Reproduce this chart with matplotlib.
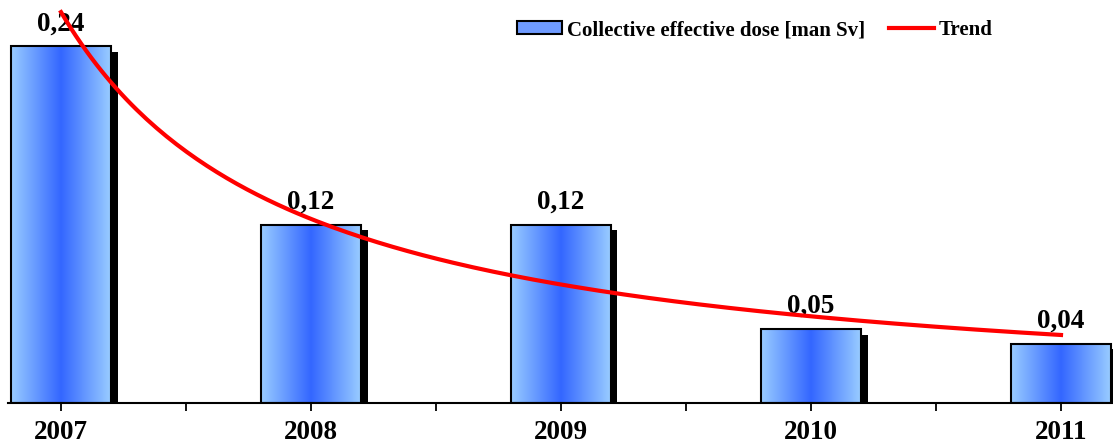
import numpy as np
import matplotlib
matplotlib.use("Agg")
import matplotlib.pyplot as plt
from matplotlib.colors import LinearSegmentedColormap
from matplotlib.patches import Rectangle, Patch
from matplotlib.lines import Line2D

years = ["2007", "2008", "2009", "2010", "2011"]
dose = [0.24, 0.12, 0.12, 0.05, 0.04]
dose_labels = ["0,24", "0,12", "0,12", "0,05", "0,04"]

plt.rcParams['font.family'] = ['Liberation Serif', 'DejaVu Serif']
plt.rcParams['font.weight'] = 'bold'

fig = plt.figure(figsize=(11.13, 4.43), dpi=100)
ax = fig.add_axes([8 / 1113, 40 / 443, 1 - 8 / 1113, 403 / 443])

x = np.arange(1, len(years) + 1)
bar_w = 0.4
cmap = LinearSegmentedColormap.from_list("barblue", ["#99ccff", "#3366ff", "#99ccff"])
grad = np.linspace(0, 1, 256).reshape(1, -1)

for xi, v in zip(x, dose):
    # shadow
    ax.add_patch(Rectangle((xi - bar_w / 2 + 0.026, -0.001), bar_w, v - 0.003,
                           facecolor="black", edgecolor="none", zorder=1))
    ax.imshow(grad, cmap=cmap, aspect="auto", zorder=2,
              extent=(xi - bar_w / 2, xi + bar_w / 2, 0, v))
    ax.add_patch(Rectangle((xi - bar_w / 2, 0), bar_w, v, facecolor="none",
                           edgecolor="black", linewidth=1.5, zorder=3))

for xi, v, lab in zip(x, dose, dose_labels):
    ax.annotate(lab, (xi, v), xytext=(0, 7), textcoords="offset points",
                ha="center", va="bottom", fontsize=19.5, fontweight="bold", zorder=4)

# power trend fitted like a spreadsheet trendline
b, ln_a = np.polyfit(np.log(x), np.log(dose), 1)
xt = np.linspace(1, len(years), 200)
ax.plot(xt, np.exp(ln_a) * xt ** b, color="#ff0000", linewidth=3, zorder=5)

ax.set_xlim(0.756 + 8 / 250, 5.208)
ax.set_ylim(0, 0.271)
ax.set_xticks(x)
ax.set_xticklabels(years, fontsize=19.5, fontweight="bold")
ax.set_xticks(x[:-1] + 0.5, minor=True)
ax.tick_params(axis="x", which="both", direction="out", length=6, width=1.3, pad=6)
ax.set_yticks([])
for s in ["top", "right", "left"]:
    ax.spines[s].set_visible(False)
ax.spines["bottom"].set_linewidth(1.5)

handles = [Patch(facecolor="#6f9bff", edgecolor="black", linewidth=1.5),
           Line2D([0], [0], color="#ff0000", linewidth=3)]
fig.legend(handles, ["Collective effective dose [man Sv]", "Trend"], ncol=2,
           frameon=False, loc="upper left", bbox_to_anchor=(517 / 1113, 1 - 20 / 443),
           prop={"size": 15, "weight": "bold"}, handlelength=2.15, handleheight=0.6,
           handletextpad=0.25, columnspacing=1.15, borderpad=0, borderaxespad=0)

fig.savefig("out.png", dpi=100)
